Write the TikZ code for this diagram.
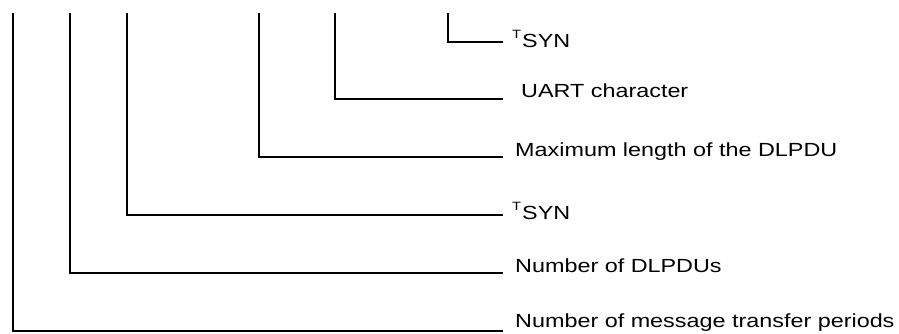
\documentclass[tikz,border=0pt]{standalone}
\usepackage{fontspec}
\setmainfont{Liberation Sans}[FakeStretch=1.23]
\newcommand{\tsyn}{{\fontsize{12}{12}\selectfont\raisebox{8.5pt}{T}}\kern1pt SYN}
\tikzset{
  lab/.style={anchor=base west,inner sep=0pt,font=\fontsize{19}{20}\selectfont},
  tree/.style={line width=1.3pt}
}
\begin{document}
\begin{tikzpicture}[x=1pt,y=-1pt]
	\useasboundingbox (0,0) rectangle (899,334);
	% upper ends and right ends of the lines
	\coordinate (t1) at (13,13);  \coordinate (e1) at (503,331);
	\coordinate (t2) at (70,13);  \coordinate (e2) at (503,273);
	\coordinate (t3) at (127,13); \coordinate (e3) at (503,215);
	\coordinate (t4) at (259,13); \coordinate (e4) at (503,157);
	\coordinate (t5) at (335,13); \coordinate (e5) at (503,99);
	\coordinate (t6) at (448,13); \coordinate (e6) at (503,42);
	\draw[tree] (t1) |- (e1) (t2) |- (e2) (t3) |- (e3)
	  (t4) |- (e4) (t5) |- (e5) (t6) |- (e6);
	% yshift is on the page, so positive goes up
	\node[lab] (l1) at ([xshift=12pt,yshift=3.5pt]e1) {Number of message transfer periods};
	\node[lab] (l2) at ([xshift=12pt,yshift=1pt]e2) {Number of DLPDUs};
	\node[lab] (l3) at ([xshift=9pt,yshift=-4pt]e3) {\tsyn};
	\node[lab] (l4) at ([xshift=12pt]e4) {Maximum length of the DLPDU};
	\node[lab] (l5) at ([xshift=18pt,yshift=1pt]e5) {UART character};
	\node[lab] (l6) at ([xshift=9pt,yshift=-5.5pt]e6) {\tsyn};
\end{tikzpicture}
\end{document}
